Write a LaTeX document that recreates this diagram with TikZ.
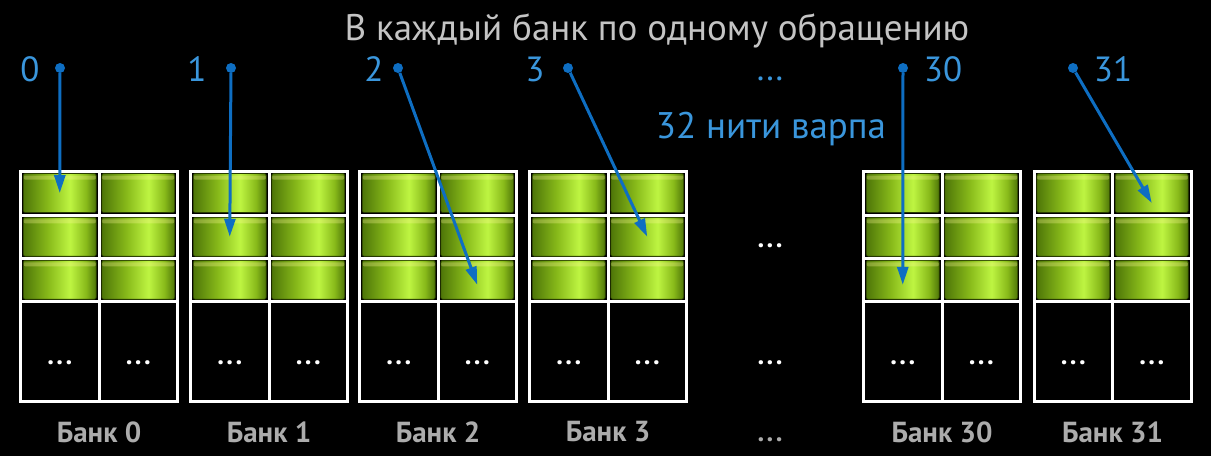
\documentclass[tikz,border=0pt]{standalone}
\usepackage{fontspec}
\setmainfont{PT Sans}
\usetikzlibrary{arrows.meta, calc}

\definecolor{threadblue}{RGB}{14,110,194}
\definecolor{numblue}{RGB}{58,150,220}
\definecolor{titlegray}{RGB}{196,196,196}
\definecolor{labelgray}{RGB}{172,172,172}
\definecolor{celldark}{RGB}{78,118,8}
\definecolor{cellmid}{RGB}{136,186,26}
\definecolor{celllight}{RGB}{190,245,66}
\definecolor{celledge}{RGB}{40,60,0}

\pgfdeclarehorizontalshading{cellshade}{100bp}{color(0bp)=(celldark); color(25bp)=(celldark); color(42bp)=(cellmid); color(57bp)=(celllight); color(68bp)=(cellmid); color(75bp)=(celldark); color(100bp)=(celldark)}

\tikzset{
  cell/.style={rectangle, rounded corners=2pt, minimum width=73pt, minimum height=39pt, inner sep=0pt,
    draw=celledge, line width=0.6pt, shade, shading=cellshade,
    path picture={\fill[yellow!40!white, opacity=0.3]
      ([yshift=-2pt]path picture bounding box.north west) rectangle ([yshift=-6pt]path picture bounding box.north east);}},
  gridline/.style={draw=white, line width=3pt},
  celldots/.style={text=white, font=\bfseries\fontsize{27}{27}\selectfont, inner sep=0pt, text height=5pt, text depth=0pt},
  banklabel/.style={text=labelgray, font=\bfseries\fontsize{29}{29}\selectfont, inner sep=0pt},
  thread/.style={circle, fill=threadblue, inner sep=0pt, minimum size=10pt},
  numtext/.style={text=numblue, font=\fontsize{35}{35}\selectfont, inner sep=0pt},
  warp/.style={threadblue, line width=3pt, -{Triangle[length=18pt, width=11pt]}}
}

% one bank: name, left edge, label
\newcommand{\drawbank}[3]{%
\begin{scope}[xshift=#2pt]
\foreach \c in {0,1}
  \foreach \r/\yc in {0/193, 1/236.75, 2/279.75}
    \node[cell] (#1-\c\r) at (39.25+78.5*\c, \yc) {};
\draw[gridline] (0,171) rectangle (157,401);
\draw[gridline] (78.5,171) -- (78.5,401);
\foreach \yy in {215, 258.5, 301}
  \draw[gridline] (0,\yy) -- (157,\yy);
\node[celldots] (#1-d0) at (39.25,362) {.\kern2.5pt.\kern2.5pt.};
\node[celldots] (#1-d1) at (117.75,362) {.\kern2.5pt.\kern2.5pt.};
\node[banklabel] (#1-name) at (78.5,432) {#3};
\end{scope}}

\begin{document}
\begin{tikzpicture}[x=1pt, y=-1pt]
\fill[black] (0,0) rectangle (1211,456);
\useasboundingbox (0,0) rectangle (1211,456);

\node[text=titlegray, font=\fontsize{37}{37}\selectfont, inner sep=0pt] (title) at (657,31) {В каждый банк по одному обращению};
\node[text=numblue, font=\fontsize{37}{37}\selectfont, inner sep=0pt] (warpname) at (771,129) {32 нити варпа};

% banks
\drawbank{b0}{20.5}{Банк 0}
\drawbank{b1}{190.5}{Банк 1}
\drawbank{b2}{359.5}{Банк 2}
\drawbank{b3}{529.5}{Банк 3}
\drawbank{b30}{863.5}{Банк 30}
\drawbank{b31}{1034}{Банк 31}

% skipped banks
\node[celldots] (skip0) at (770,245) {.\kern2.5pt.\kern2.5pt.};
\node[celldots] (skip1) at (770,362) {.\kern2.5pt.\kern2.5pt.};
\node[celldots, text=labelgray] (skip2) at (770,439) {.\kern2.5pt.\kern2.5pt.};

% threads
\node[numtext] (n0) at (30,69) {0};
\node[numtext] (n1) at (197,69) {1};
\node[numtext] (n2) at (374,69) {2};
\node[numtext] (n3) at (535,69) {3};
\node[numtext, text height=4pt, text depth=0pt] (nskip) at (770,78) {.\kern2pt.\kern2pt.};
\node[numtext] (n30) at (943,69) {30};
\node[numtext] (n31) at (1113,69) {31};

\node[thread] (t0) at (60,68) {};
\node[thread] (t1) at (231,68) {};
\node[thread] (t2) at (398,68) {};
\node[thread] (t3) at (568,68) {};
\node[thread] (t30) at (903,68) {};
\node[thread] (t31) at (1073,68) {};

\draw[warp] (t0) -- (b0-00.center);
\draw[warp] (t1) -- (b1-01.center);
\draw[warp] (t2) -- ($(b2-12.center)+(0,5)$);
\draw[warp] (t3) -- (b3-11.center);
\draw[warp] (t30) -- ($(b30-02.center)+(0,5)$);
\draw[warp] (t31) -- ($(b31-10.center)+(0,10)$);
\end{tikzpicture}
\end{document}
